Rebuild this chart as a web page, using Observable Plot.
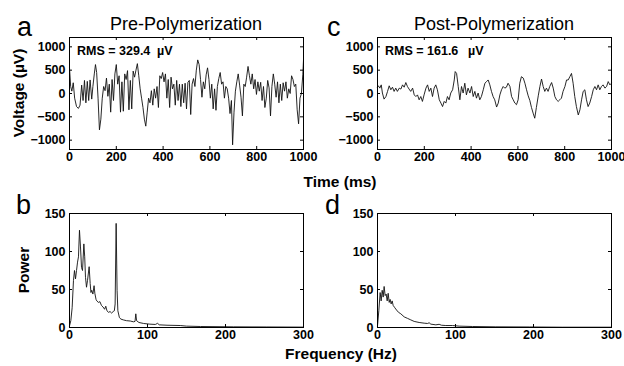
<!DOCTYPE html>
<html><head><meta charset="utf-8">
<script src="https://cdn.jsdelivr.net/npm/d3@7"></script>
<script src="https://cdn.jsdelivr.net/npm/@observablehq/plot@0.6"></script>
<style>
body{margin:0;background:#fff;}
#chart{position:relative;width:624px;height:366px;overflow:hidden;background:#fff;font-family:"Liberation Sans",Arial,sans-serif;}
#chart svg{position:absolute;}
</style></head><body><div id="chart"></div>
<script>
// ---- data ----
const preTime = [0,5,10,16,22,30,38,45,52,58,64,70,76,82,88,95,100,106,111,116,122,128,134,140,146,152,158,164,170,176,182,188,194,200,206,212,218,224,230,236,242,248,254,260,266,272,278,284,290,296,302,308,314,320,326,332,338,344,350,356,362,368,374,380,386,392,398,404,410,416,422,428,434,440,446,452,458,464,470,476,482,488,494,500,506,512,518,524,530,536,542,548,554,560,566,572,578,584,590,596,602,608,614,620,626,632,638,644,650,656,662,668,674,680,686,692,697,703,709,715,721,727,733,739,745,751,757,763,769,775,781,787,793,799,805,811,817,823,829,835,841,847,853,859,865,871,877,883,889,895,901,907,913,919,925,931,937,943,949,955,961,967,973,979,985,991,997,1000];
const preVoltage = [550,150,50,230,-100,-280,-320,-250,180,-150,280,-200,260,-150,290,-120,150,420,620,450,-100,-780,-550,-100,150,60,330,-60,200,-400,300,-150,420,620,200,380,-400,250,-380,420,300,490,-350,280,-330,480,350,500,640,380,100,-100,-300,-550,-700,-400,-100,-200,60,-250,100,-100,150,-300,380,320,450,250,420,-100,300,-300,350,100,200,-250,280,-150,200,-280,200,-200,220,-330,240,280,-450,200,320,150,500,720,620,300,-80,250,100,400,550,300,-100,200,-330,100,-360,150,320,450,200,250,-100,150,100,-100,-430,-150,-1100,-400,50,250,420,180,-80,-480,200,150,350,580,380,200,420,100,300,-20,250,50,240,-150,150,-300,-100,280,120,-480,150,420,200,-80,250,-200,200,-150,230,50,250,-100,100,0,380,300,150,200,-350,-650,-100,0,400,720];

const postTime = [0,4,10,16,21,28,36,43,50,57,64,71,78,85,93,100,107,114,121,128,135,142,150,157,164,171,178,185,192,199,207,214,221,228,235,242,249,256,264,271,278,285,292,299,306,313,321,328,332,338,345,352,359,366,373,380,387,395,402,409,416,423,430,437,444,452,459,466,473,480,487,494,501,509,516,523,530,537,544,551,558,566,573,580,587,594,601,608,615,623,630,637,644,651,658,665,672,679,687,694,701,708,715,722,729,736,744,751,758,765,772,779,786,793,801,808,815,822,829,836,843,850,858,865,872,879,886,893,900,907,915,922,929,936,943,950,957,964,972,979,986,993,1000];
const postVoltage = [135,165,115,185,10,-120,-65,45,165,80,135,45,115,45,115,95,185,135,235,150,95,45,115,-30,-65,-30,-135,-65,-170,-30,115,185,45,115,-65,115,185,80,-135,-205,-280,-170,-205,-65,-135,10,80,290,470,430,150,-135,150,10,220,-30,115,10,150,-65,45,-100,10,-135,-65,80,220,255,290,185,45,-65,-135,-290,-205,-30,80,150,115,135,220,150,-65,-135,-205,-240,-135,220,360,330,220,80,-50,-150,-300,-420,-530,-300,-50,150,310,150,45,115,45,150,235,115,-65,-135,-170,-135,-100,45,150,290,290,360,430,220,-65,-280,-460,-350,-135,45,80,-135,-280,-205,-65,80,150,80,185,80,150,185,115,150,255,185,220];

const preFreq = [0,1.7,3.4,5.1,6.4,7.7,9,10.3,11.5,12.8,14.1,15.4,16.7,18.4,19.5,20.5,21.8,23.1,25.2,26.5,27.5,28.5,30,31.5,32.5,34,35,37,39,41,43,45,46.5,48,50,52,54,56,57.5,58.5,59.8,61,62,64,66,69,73,78,82,84,85,86,89,95,103,110,113,115,125,142,150,168,210,253,300];
const prePower = [2,9,26,62,75,64,75,86,93,128,106,79,75,110,93,66,53,62,80,58,46,49,44,55,45,37,35,33,34,29,27,24,28,22,20,21,19,21,22,31,137,49,22,13,11,10,9,8.5,7.5,8,18,9,6.6,5.3,4.4,4,5.5,3.5,3,2.6,1.8,1.3,0.9,0.7,0.5];

const postFreq = [0,1.7,3.4,4.7,6,7.3,8.5,9.8,11.1,12.4,13.7,15,16.2,17.5,18.8,20.1,22.2,24.4,26.9,29.9,34.2,38.5,42.7,47,53.4,59.8,64.1,66.2,68.4,74.8,79,82,87.6,96.2,104.7,121.8,151.7,194.5,237.2,300];
const postPower = [2,22,46,35,49,40,54,42,44,35,45,33,37,31,35,29,26,23,20,18,14,12,10,8,6.6,5.7,5.3,6.2,4.4,3.5,4.2,3,2.6,2.6,1.8,1.3,0.9,0.7,0.4,0.4];

const timeTicks = [0,200,400,600,800,1000];
const voltageTicks = [-1000,-500,0,500,1000];
const freqTicks = [0,100,200,300];
const powerTicks = [0,50,100,150];

// ---- drawing ----
const chart = document.getElementById("chart");
const FONT = "'Liberation Sans', Arial, sans-serif";

function panel({xs, ys, xDomain, yDomain, xTicks, yTicks, left, top, width, height, ml, mr, mt, mb}) {
  const fw = width - ml - mr, fh = height - mt - mb, tl = 3;
  const data = xs.map((d, i) => ({x: d, y: ys[i]}));
  const svg = Plot.plot({
    width, height, marginLeft: ml, marginRight: mr, marginTop: mt, marginBottom: mb,
    x: {domain: xDomain, label: null},
    y: {domain: yDomain, label: null},
    style: {background: "transparent", overflow: "visible", fontFamily: FONT, fontSize: "12.5px", fontWeight: "bold", color: "#000"},
    marks: [
      Plot.line(data, {x: "x", y: "y", stroke: "#111", strokeWidth: 0.9}),
      Plot.tickX(xTicks, {x: d => d, insetTop: fh - tl, stroke: "#000"}),
      Plot.tickX(xTicks, {x: d => d, insetBottom: fh - tl, stroke: "#000"}),
      Plot.tickY(yTicks, {y: d => d, insetRight: fw - tl, stroke: "#000"}),
      Plot.tickY(yTicks, {y: d => d, insetLeft: fw - tl, stroke: "#000"}),
      Plot.frame({stroke: "#000", strokeWidth: 1}),
      Plot.axisX(xTicks, {tickSize: 0, tickPadding: 3, label: null, tickFormat: d3.format("d"), fill: "#000"}),
      Plot.axisY(yTicks, {tickSize: 0, tickPadding: 4, label: null, tickFormat: d3.format("d"), fill: "#000"})
    ]
  });
  svg.style.left = left + "px";
  svg.style.top = top + "px";
  chart.appendChild(svg);
}

panel({xs: preTime, ys: preVoltage, xDomain: [0, 1000], yDomain: [-1200, 1200], xTicks: timeTicks, yTicks: voltageTicks,
  left: 0, top: 0, width: 312, height: 183, ml: 69, mr: 9, mt: 37, mb: 34});
panel({xs: postTime, ys: postVoltage, xDomain: [0, 1000], yDomain: [-1200, 1200], xTicks: timeTicks, yTicks: voltageTicks,
  left: 312, top: 0, width: 312, height: 183, ml: 65, mr: 13, mt: 37, mb: 34});
panel({xs: preFreq, ys: prePower, xDomain: [0, 300], yDomain: [0, 150], xTicks: freqTicks, yTicks: powerTicks,
  left: 0, top: 183, width: 312, height: 183, ml: 69, mr: 9, mt: 30, mb: 39});
panel({xs: postFreq, ys: postPower, xDomain: [0, 300], yDomain: [0, 150], xTicks: freqTicks, yTicks: powerTicks,
  left: 312, top: 183, width: 312, height: 183, ml: 65, mr: 13, mt: 30, mb: 39});

// ---- text overlay ----
const ov = d3.select(chart).append("svg")
  .attr("width", 624).attr("height", 366)
  .style("left", "0px").style("top", "0px").style("overflow", "visible")
  .attr("font-family", FONT).attr("fill", "#000");

const texts = [
  {t: "Pre-Polymerization", x: 186, y: 30, s: 18, w: "normal", a: "middle"},
  {t: "Post-Polymerization", x: 494, y: 30, s: 18, w: "normal", a: "middle"},
  {t: "a", x: 17, y: 36, s: 27, w: "normal", a: "start"},
  {t: "c", x: 327, y: 36, s: 27, w: "normal", a: "start"},
  {t: "b", x: 16, y: 214, s: 27, w: "normal", a: "start"},
  {t: "d", x: 325, y: 214, s: 27, w: "normal", a: "start"},
  {t: "RMS = 329.4", x: 77, y: 55, s: 12.5, w: "bold", a: "start"},
  {t: "µV", x: 157, y: 55, s: 12.5, w: "bold", a: "start"},
  {t: "RMS = 161.6", x: 385, y: 55, s: 12.5, w: "bold", a: "start"},
  {t: "µV", x: 468, y: 55, s: 12.5, w: "bold", a: "start"},
  {t: "Time (ms)", x: 340, y: 187, s: 15.5, w: "bold", a: "middle"},
  {t: "Frequency (Hz)", x: 341, y: 359, s: 15.5, w: "bold", a: "middle"}
];
ov.selectAll("text.t").data(texts).join("text")
  .attr("x", d => d.x).attr("y", d => d.y)
  .attr("font-size", d => d.s).attr("font-weight", d => d.w)
  .attr("text-anchor", d => d.a).text(d => d.t);

const rot = [
  {t: "Voltage (µV)", x: 24, y: 93},
  {t: "Power", x: 29, y: 270}
];
ov.selectAll("text.r").data(rot).join("text")
  .attr("transform", d => `translate(${d.x},${d.y}) rotate(-90)`)
  .attr("font-size", 15.5).attr("font-weight", "bold")
  .attr("text-anchor", "middle").text(d => d.t);
</script></body></html>
